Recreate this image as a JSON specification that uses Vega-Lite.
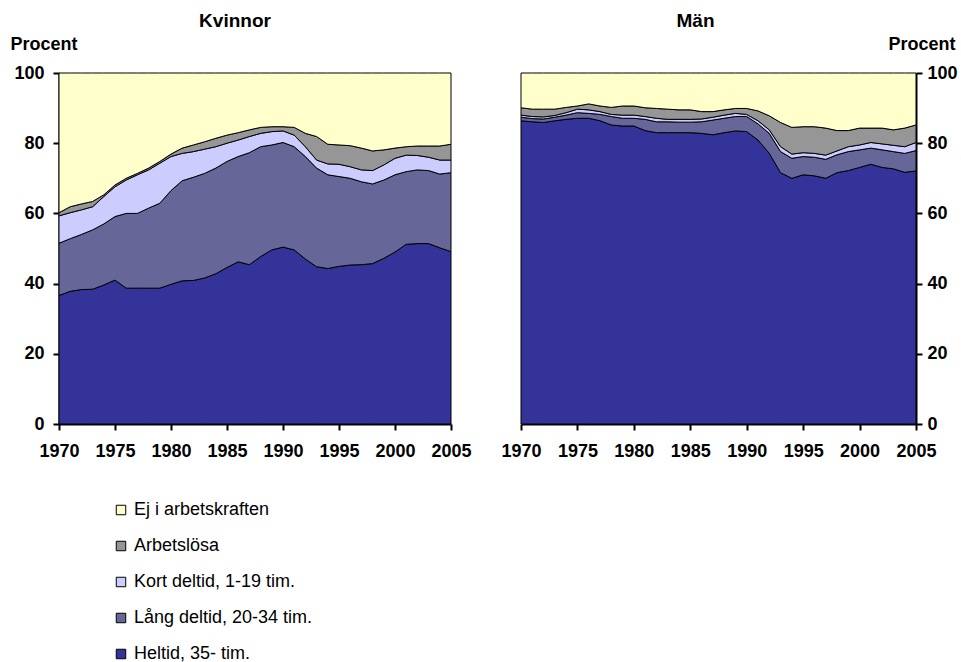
{
 "$schema": "https://vega.github.io/schema/vega-lite/v6.json",
 "autosize": {"type": "none"},
 "padding": {"left": 59, "top": 73, "right": 902, "bottom": 589},
 "bounds": "flush",
 "spacing": 70,
 "config": {
  "font": "Liberation Sans",
  "view": {"stroke": null},
  "axis": {"domainColor": "black", "domainWidth": 2, "tickColor": "black", "tickWidth": 2, "tickSize": 6, "labelColor": "black", "labelFontSize": 18, "labelFontWeight": "bold", "labelFont": "Liberation Sans", "titleFont": "Liberation Sans", "titleFontSize": 18, "titleFontWeight": "bold", "titleColor": "black", "grid": false},
  "title": {"font": "Liberation Sans", "fontSize": 19, "fontWeight": "bold", "color": "black"}
 },
 "data": {"values": [
  {"s":"Kvinnor","year":1970,"H":36.6,"L":14.9,"K":7.8,"A":0.9,"E":39.8},
  {"s":"Kvinnor","year":1971,"H":37.8,"L":15.0,"K":7.4,"A":1.7,"E":38.1},
  {"s":"Kvinnor","year":1972,"H":38.3,"L":15.7,"K":7.0,"A":1.7,"E":37.3},
  {"s":"Kvinnor","year":1973,"H":38.4,"L":16.9,"K":6.6,"A":1.5,"E":36.6},
  {"s":"Kvinnor","year":1974,"H":39.6,"L":17.4,"K":7.8,"A":0.5,"E":34.7},
  {"s":"Kvinnor","year":1975,"H":41.0,"L":18.1,"K":8.5,"A":0.5,"E":31.9},
  {"s":"Kvinnor","year":1976,"H":38.7,"L":21.3,"K":9.5,"A":0.5,"E":30.0},
  {"s":"Kvinnor","year":1977,"H":38.7,"L":21.3,"K":11.0,"A":0.4,"E":28.6},
  {"s":"Kvinnor","year":1978,"H":38.7,"L":22.8,"K":10.9,"A":0.5,"E":27.1},
  {"s":"Kvinnor","year":1979,"H":38.7,"L":24.2,"K":11.4,"A":0.5,"E":25.2},
  {"s":"Kvinnor","year":1980,"H":39.8,"L":26.7,"K":9.7,"A":0.7,"E":23.1},
  {"s":"Kvinnor","year":1981,"H":40.8,"L":28.5,"K":7.8,"A":1.5,"E":21.4},
  {"s":"Kvinnor","year":1982,"H":40.9,"L":29.4,"K":7.3,"A":1.9,"E":20.5},
  {"s":"Kvinnor","year":1983,"H":41.6,"L":29.8,"K":6.9,"A":2.1,"E":19.6},
  {"s":"Kvinnor","year":1984,"H":42.8,"L":30.1,"K":6.1,"A":2.4,"E":18.6},
  {"s":"Kvinnor","year":1985,"H":44.6,"L":30.2,"K":5.2,"A":2.3,"E":17.7},
  {"s":"Kvinnor","year":1986,"H":46.2,"L":30.0,"K":4.7,"A":2.1,"E":17.0},
  {"s":"Kvinnor","year":1987,"H":45.4,"L":31.9,"K":4.6,"A":1.9,"E":16.2},
  {"s":"Kvinnor","year":1988,"H":47.7,"L":31.3,"K":3.8,"A":1.7,"E":15.5},
  {"s":"Kvinnor","year":1989,"H":49.6,"L":29.9,"K":3.8,"A":1.4,"E":15.3},
  {"s":"Kvinnor","year":1990,"H":50.4,"L":29.8,"K":3.3,"A":1.2,"E":15.3},
  {"s":"Kvinnor","year":1991,"H":49.6,"L":29.4,"K":3.3,"A":2.2,"E":15.5},
  {"s":"Kvinnor","year":1992,"H":47.0,"L":29.2,"K":2.8,"A":3.8,"E":17.2},
  {"s":"Kvinnor","year":1993,"H":44.8,"L":28.1,"K":2.3,"A":6.7,"E":18.1},
  {"s":"Kvinnor","year":1994,"H":44.3,"L":26.7,"K":3.1,"A":5.6,"E":20.3},
  {"s":"Kvinnor","year":1995,"H":44.9,"L":25.6,"K":3.5,"A":5.5,"E":20.5},
  {"s":"Kvinnor","year":1996,"H":45.3,"L":24.7,"K":3.3,"A":6.0,"E":20.7},
  {"s":"Kvinnor","year":1997,"H":45.4,"L":23.6,"K":3.4,"A":6.2,"E":21.4},
  {"s":"Kvinnor","year":1998,"H":45.7,"L":22.7,"K":3.8,"A":5.6,"E":22.2},
  {"s":"Kvinnor","year":1999,"H":47.2,"L":22.3,"K":4.3,"A":4.3,"E":21.9},
  {"s":"Kvinnor","year":2000,"H":49.0,"L":22.0,"K":4.7,"A":2.9,"E":21.4},
  {"s":"Kvinnor","year":2001,"H":51.2,"L":20.7,"K":4.7,"A":2.4,"E":21.0},
  {"s":"Kvinnor","year":2002,"H":51.4,"L":21.0,"K":4.1,"A":2.7,"E":20.8},
  {"s":"Kvinnor","year":2003,"H":51.4,"L":20.8,"K":3.8,"A":3.2,"E":20.8},
  {"s":"Kvinnor","year":2004,"H":50.2,"L":21.0,"K":4.0,"A":4.0,"E":20.8},
  {"s":"Kvinnor","year":2005,"H":49.1,"L":22.5,"K":3.6,"A":4.5,"E":20.3},
  {"s":"Män","year":1970,"H":86.4,"L":1.0,"K":0.6,"A":2.1,"E":9.9},
  {"s":"Män","year":1971,"H":86.1,"L":0.9,"K":0.6,"A":2.1,"E":10.3},
  {"s":"Män","year":1972,"H":85.9,"L":1.0,"K":0.6,"A":2.2,"E":10.3},
  {"s":"Män","year":1973,"H":86.4,"L":1.0,"K":0.5,"A":1.8,"E":10.3},
  {"s":"Män","year":1974,"H":86.8,"L":1.2,"K":0.7,"A":1.5,"E":9.8},
  {"s":"Män","year":1975,"H":87.1,"L":1.6,"K":1.0,"A":0.9,"E":9.4},
  {"s":"Män","year":1976,"H":87.1,"L":1.4,"K":1.0,"A":1.7,"E":8.8},
  {"s":"Män","year":1977,"H":86.4,"L":1.8,"K":0.8,"A":1.6,"E":9.4},
  {"s":"Män","year":1978,"H":85.2,"L":2.4,"K":0.6,"A":2.0,"E":9.8},
  {"s":"Män","year":1979,"H":84.9,"L":2.2,"K":0.9,"A":2.6,"E":9.4},
  {"s":"Män","year":1980,"H":84.9,"L":2.2,"K":0.9,"A":2.6,"E":9.4},
  {"s":"Män","year":1981,"H":83.6,"L":3.2,"K":0.8,"A":2.5,"E":9.9},
  {"s":"Män","year":1982,"H":83.0,"L":3.1,"K":1.0,"A":2.8,"E":10.1},
  {"s":"Män","year":1983,"H":83.0,"L":3.1,"K":0.7,"A":2.9,"E":10.3},
  {"s":"Män","year":1984,"H":83.0,"L":3.0,"K":0.8,"A":2.7,"E":10.5},
  {"s":"Män","year":1985,"H":83.0,"L":3.0,"K":0.8,"A":2.7,"E":10.5},
  {"s":"Män","year":1986,"H":82.8,"L":3.3,"K":0.8,"A":2.1,"E":11.0},
  {"s":"Män","year":1987,"H":82.4,"L":4.2,"K":0.8,"A":1.6,"E":11.0},
  {"s":"Män","year":1988,"H":83.0,"L":4.1,"K":0.9,"A":1.5,"E":10.5},
  {"s":"Män","year":1989,"H":83.5,"L":4.1,"K":0.9,"A":1.4,"E":10.1},
  {"s":"Män","year":1990,"H":83.3,"L":4.3,"K":0.6,"A":1.7,"E":10.1},
  {"s":"Män","year":1991,"H":80.9,"L":4.6,"K":0.9,"A":2.8,"E":10.8},
  {"s":"Män","year":1992,"H":77.1,"L":5.7,"K":1.0,"A":4.0,"E":12.2},
  {"s":"Män","year":1993,"H":71.6,"L":6.0,"K":1.4,"A":6.9,"E":14.1},
  {"s":"Män","year":1994,"H":70.0,"L":5.7,"K":1.2,"A":7.6,"E":15.5},
  {"s":"Män","year":1995,"H":71.0,"L":5.2,"K":1.1,"A":7.4,"E":15.3},
  {"s":"Män","year":1996,"H":70.7,"L":5.3,"K":1.1,"A":7.6,"E":15.3},
  {"s":"Män","year":1997,"H":70.0,"L":5.4,"K":1.2,"A":7.7,"E":15.7},
  {"s":"Män","year":1998,"H":71.6,"L":5.1,"K":1.1,"A":5.8,"E":16.4},
  {"s":"Män","year":1999,"H":72.2,"L":5.4,"K":1.4,"A":4.6,"E":16.4},
  {"s":"Män","year":2000,"H":73.1,"L":5.0,"K":1.4,"A":4.8,"E":15.7},
  {"s":"Män","year":2001,"H":74.0,"L":4.6,"K":1.6,"A":4.1,"E":15.7},
  {"s":"Män","year":2002,"H":73.1,"L":5.0,"K":1.7,"A":4.5,"E":15.7},
  {"s":"Män","year":2003,"H":72.7,"L":4.9,"K":1.8,"A":4.4,"E":16.2},
  {"s":"Män","year":2004,"H":71.7,"L":5.4,"K":1.9,"A":5.3,"E":15.7},
  {"s":"Män","year":2005,"H":72.1,"L":5.8,"K":2.3,"A":5.0,"E":14.8}
 ]},
 "transform": [
  {"fold": ["H", "L", "K", "A", "E"], "as": ["cat", "value"]},
  {"calculate": "indexof(['H','L','K','A','E'], datum.cat)", "as": "rank"}
 ],
 "hconcat": [
  {
   "width": 392, "height": 351,
   "title": {"text": "Kvinnor", "anchor": "middle", "dx": -20, "offset": 4},
   "transform": [{"filter": "datum.s === 'Kvinnor'"}],
   "mark": {"type": "area", "stroke": "black", "strokeWidth": 1, "opacity": 1},
   "encoding": {
    "x": {"field": "year", "type": "quantitative", "scale": {"domain": [1970, 2005], "nice": false, "zero": false},
          "axis": {"values": [1970,1975,1980,1985,1990,1995,2000,2005], "format": "d", "title": null, "labelPadding": 12, "labelFlush": false, "labelOverlap": false}},
    "y": {"field": "value", "type": "quantitative", "stack": "zero", "scale": {"domain": [0, 100], "nice": false},
          "axis": {"orient": "left", "values": [0,20,40,60,80,100], "title": "Procent", "titleAngle": 0, "titleAlign": "left", "titleBaseline": "alphabetic", "titleX": -49, "titleY": -24, "labelPadding": 9}},
    "color": {"field": "cat", "type": "nominal",
              "scale": {"domain": ["E","A","K","L","H"], "range": ["#FFFFCC","#969696","#CCCCFF","#666699","#333399"]},
              "legend": {"orient": "none", "legendX": 53, "legendY": 428, "title": null, "symbolType": "square", "symbolSize": 90, "symbolStrokeColor": "black", "symbolStrokeWidth": 1, "symbolOpacity": 1, "labelFontSize": 18, "labelColor": "black", "labelLimit": 0, "rowPadding": 18, "labelOffset": 4,
                         "labelExpr": "{'E':'Ej i arbetskraften','A':'Arbetslösa','K':'Kort deltid, 1-19 tim.','L':'Lång deltid, 20-34 tim.','H':'Heltid, 35- tim.'}[datum.label]"}},
    "order": {"field": "rank", "type": "quantitative"}
   }
  },
  {
   "width": 395, "height": 351,
   "title": {"text": "Män", "anchor": "middle", "dx": -23, "offset": 4},
   "transform": [{"filter": "datum.s === 'Män'"}],
   "mark": {"type": "area", "stroke": "black", "strokeWidth": 1, "opacity": 1},
   "encoding": {
    "x": {"field": "year", "type": "quantitative", "scale": {"domain": [1970, 2005], "nice": false, "zero": false},
          "axis": {"values": [1970,1975,1980,1985,1990,1995,2000,2005], "format": "d", "title": null, "labelPadding": 12, "labelFlush": false, "labelOverlap": false}},
    "y": {"field": "value", "type": "quantitative", "stack": "zero", "scale": {"domain": [0, 100], "nice": false},
          "axis": {"orient": "right", "values": [0,20,40,60,80,100], "title": "Procent", "titleAngle": 0, "titleAlign": "right", "titleBaseline": "alphabetic", "titleX": 39, "titleY": -24, "labelPadding": 5}},
    "color": {"field": "cat", "type": "nominal",
              "scale": {"domain": ["E","A","K","L","H"], "range": ["#FFFFCC","#969696","#CCCCFF","#666699","#333399"]},
              "legend": {"orient": "none", "legendX": 53, "legendY": 428, "title": null, "symbolType": "square", "symbolSize": 90, "symbolStrokeColor": "black", "symbolStrokeWidth": 1, "symbolOpacity": 1, "labelFontSize": 18, "labelColor": "black", "labelLimit": 0, "rowPadding": 18, "labelOffset": 4,
                         "labelExpr": "{'E':'Ej i arbetskraften','A':'Arbetslösa','K':'Kort deltid, 1-19 tim.','L':'Lång deltid, 20-34 tim.','H':'Heltid, 35- tim.'}[datum.label]"}},
    "order": {"field": "rank", "type": "quantitative"}
   }
  }
 ]
}
